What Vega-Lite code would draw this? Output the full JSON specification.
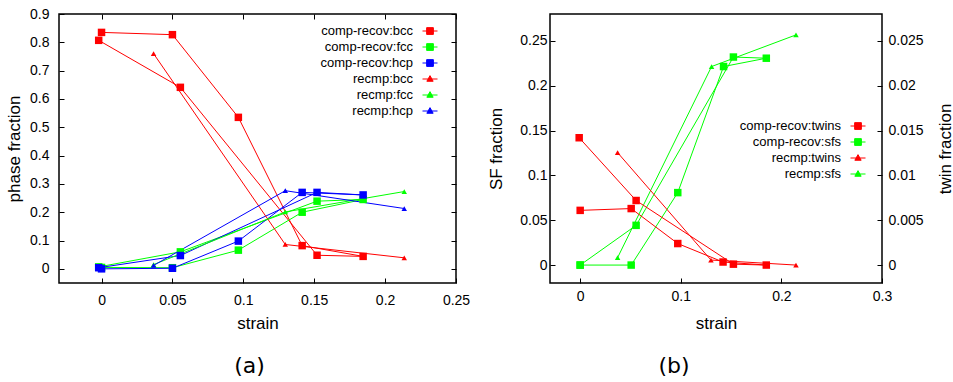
{
  "$schema": "https://vega.github.io/schema/vega-lite/v6.json",
  "padding": {"left": 4, "top": 6, "right": 0, "bottom": 0},
  "background": "white",
  "spacing": 16,
  "config": {
    "font": "Liberation Sans",
    "view": {"stroke": "black", "strokeWidth": 1.5},
    "axis": {"domain": false, "grid": false, "tickColor": "black", "tickSize": -5, "tickWidth": 1, "labelFont": "Liberation Sans", "labelFontSize": 14, "labelColor": "black", "titleFont": "Liberation Sans", "titleFontSize": 17, "titleFontWeight": "normal", "titleColor": "black", "labelFlush": false, "labelOverlap": false},
    "legend": {"labelFont": "Liberation Sans", "labelFontSize": 13, "labelColor": "black", "labelAlign": "right", "labelOffset": -25, "symbolSize": 225, "rowPadding": 1, "padding": 0, "symbolOffset": 0, "orient": "none", "direction": "vertical"}
  },
  "resolve": {"scale": {"fill": "independent", "stroke": "independent", "shape": "independent", "size": "independent"}},
  "hconcat": [
    {
      "name": "pa",
      "width": 397,
      "height": 269,
      "title": {"text": "(a)", "orient": "bottom", "font": "DejaVu Sans", "fontSize": 22, "fontWeight": "normal", "color": "black", "offset": 25, "dx": -8, "anchor": "middle", "frame": "group"},
      "data": {"values": [
        {"series": "comp-recov:bcc", "run": "comp-recov", "step": 1, "strain": 0.0, "frac": 0.835},
        {"series": "comp-recov:bcc", "run": "comp-recov", "step": 2, "strain": 0.05, "frac": 0.827},
        {"series": "comp-recov:bcc", "run": "comp-recov", "step": 3, "strain": 0.0965, "frac": 0.535},
        {"series": "comp-recov:bcc", "run": "comp-recov", "step": 4, "strain": 0.1415, "frac": 0.082},
        {"series": "comp-recov:bcc", "run": "comp-recov", "step": 5, "strain": 0.1845, "frac": 0.044},
        {"series": "comp-recov:bcc", "run": "comp-recov", "step": 6, "strain": 0.152, "frac": 0.048},
        {"series": "comp-recov:bcc", "run": "comp-recov", "step": 7, "strain": 0.0556, "frac": 0.641},
        {"series": "comp-recov:bcc", "run": "comp-recov", "step": 8, "strain": -0.002, "frac": 0.807},
        {"series": "comp-recov:fcc", "run": "comp-recov", "step": 1, "strain": 0.0, "frac": 0.005},
        {"series": "comp-recov:fcc", "run": "comp-recov", "step": 2, "strain": 0.05, "frac": 0.004},
        {"series": "comp-recov:fcc", "run": "comp-recov", "step": 3, "strain": 0.0965, "frac": 0.066},
        {"series": "comp-recov:fcc", "run": "comp-recov", "step": 4, "strain": 0.1415, "frac": 0.2},
        {"series": "comp-recov:fcc", "run": "comp-recov", "step": 5, "strain": 0.1845, "frac": 0.245},
        {"series": "comp-recov:fcc", "run": "comp-recov", "step": 6, "strain": 0.152, "frac": 0.239},
        {"series": "comp-recov:fcc", "run": "comp-recov", "step": 7, "strain": 0.0556, "frac": 0.06},
        {"series": "comp-recov:fcc", "run": "comp-recov", "step": 8, "strain": -0.002, "frac": 0.007},
        {"series": "comp-recov:hcp", "run": "comp-recov", "step": 1, "strain": 0.0, "frac": 0.0},
        {"series": "comp-recov:hcp", "run": "comp-recov", "step": 2, "strain": 0.05, "frac": 0.002},
        {"series": "comp-recov:hcp", "run": "comp-recov", "step": 3, "strain": 0.0965, "frac": 0.098},
        {"series": "comp-recov:hcp", "run": "comp-recov", "step": 4, "strain": 0.1415, "frac": 0.27},
        {"series": "comp-recov:hcp", "run": "comp-recov", "step": 5, "strain": 0.1845, "frac": 0.261},
        {"series": "comp-recov:hcp", "run": "comp-recov", "step": 6, "strain": 0.152, "frac": 0.27},
        {"series": "comp-recov:hcp", "run": "comp-recov", "step": 7, "strain": 0.0556, "frac": 0.047},
        {"series": "comp-recov:hcp", "run": "comp-recov", "step": 8, "strain": -0.002, "frac": 0.004},
        {"series": "recmp:bcc", "run": "recmp", "step": 1, "strain": 0.0367, "frac": 0.76},
        {"series": "recmp:bcc", "run": "recmp", "step": 2, "strain": 0.1296, "frac": 0.086},
        {"series": "recmp:bcc", "run": "recmp", "step": 3, "strain": 0.2135, "frac": 0.039},
        {"series": "recmp:fcc", "run": "recmp", "step": 1, "strain": 0.0367, "frac": 0.015},
        {"series": "recmp:fcc", "run": "recmp", "step": 2, "strain": 0.1296, "frac": 0.201},
        {"series": "recmp:fcc", "run": "recmp", "step": 3, "strain": 0.2135, "frac": 0.273},
        {"series": "recmp:hcp", "run": "recmp", "step": 1, "strain": 0.0367, "frac": 0.012},
        {"series": "recmp:hcp", "run": "recmp", "step": 2, "strain": 0.1296, "frac": 0.276},
        {"series": "recmp:hcp", "run": "recmp", "step": 3, "strain": 0.2135, "frac": 0.213}
      ]},
      "resolve": {"axis": {"x": "independent", "y": "independent"}},
      "layer": [
        {
          "mark": {"type": "line", "strokeWidth": 1},
          "encoding": {
            "x": {"field": "strain", "type": "quantitative", "scale": {"domain": [-0.03, 0.25], "nice": false, "zero": false}, "axis": {"orient": "bottom", "values": [0, 0.05, 0.1, 0.15, 0.2, 0.25], "format": "~g", "labelPadding": 15, "title": "strain", "titlePadding": 8}},
            "y": {"field": "frac", "type": "quantitative", "scale": {"domain": [-0.05, 0.9], "nice": false, "zero": false}, "axis": {"orient": "left", "values": [0, 0.1, 0.2, 0.3, 0.4, 0.5, 0.6, 0.7, 0.8, 0.9], "format": "~g", "labelPadding": 15, "title": "phase fraction", "titlePadding": 6}},
            "detail": {"field": "series"},
            "order": {"field": "step", "type": "quantitative"},
            "stroke": {"field": "series", "type": "nominal", "scale": {"domain": ["comp-recov:bcc", "comp-recov:fcc", "comp-recov:hcp", "recmp:bcc", "recmp:fcc", "recmp:hcp"], "range": ["#ff0000", "#00ff00", "#0000ff", "#ff0000", "#00ff00", "#0000ff"]},
              "legend": {"title": null, "legendX": 363, "legendY": 9, "encode": {"symbols": {"update": {"shape": {"signal": "indexof(datum.value,'recmp')==0 ? 'M-1,0H1M0,-0.45L0.42,0.3H-0.42Z' : 'M-1,0H1M-0.45,-0.45H0.45V0.45H-0.45Z'"}, "fill": {"signal": "indexof(datum.value,'bcc')>=0 || indexof(datum.value,'twins')>=0 ? '#ff0000' : (indexof(datum.value,'fcc')>=0 || indexof(datum.value,'sfs')>=0 ? '#00ff00' : '#0000ff')"}, "stroke": {"signal": "indexof(datum.value,'bcc')>=0 || indexof(datum.value,'twins')>=0 ? '#ff0000' : (indexof(datum.value,'fcc')>=0 || indexof(datum.value,'sfs')>=0 ? '#00ff00' : '#0000ff')"}, "strokeWidth": {"value": 1}, "opacity": {"value": 1}}}}}}
          }
        },
        {
          "mark": {"type": "point", "filled": true, "opacity": 1, "strokeWidth": 0},
          "encoding": {
            "x": {"field": "strain", "type": "quantitative", "axis": {"orient": "top", "values": [0, 0.05, 0.1, 0.15, 0.2, 0.25], "labels": false, "title": null}},
            "y": {"field": "frac", "type": "quantitative", "axis": {"orient": "right", "values": [0, 0.1, 0.2, 0.3, 0.4, 0.5, 0.6, 0.7, 0.8, 0.9], "labels": false, "title": null}},
            "fill": {"field": "series", "type": "nominal", "scale": {"domain": ["comp-recov:bcc", "comp-recov:fcc", "comp-recov:hcp", "recmp:bcc", "recmp:fcc", "recmp:hcp"], "range": ["#ff0000", "#00ff00", "#0000ff", "#ff0000", "#00ff00", "#0000ff"]},
              "legend": {"title": null, "legendX": 363, "legendY": 9, "encode": {"symbols": {"update": {"shape": {"signal": "indexof(datum.value,'recmp')==0 ? 'M-1,0H1M0,-0.45L0.42,0.3H-0.42Z' : 'M-1,0H1M-0.45,-0.45H0.45V0.45H-0.45Z'"}, "fill": {"signal": "indexof(datum.value,'bcc')>=0 || indexof(datum.value,'twins')>=0 ? '#ff0000' : (indexof(datum.value,'fcc')>=0 || indexof(datum.value,'sfs')>=0 ? '#00ff00' : '#0000ff')"}, "stroke": {"signal": "indexof(datum.value,'bcc')>=0 || indexof(datum.value,'twins')>=0 ? '#ff0000' : (indexof(datum.value,'fcc')>=0 || indexof(datum.value,'sfs')>=0 ? '#00ff00' : '#0000ff')"}, "strokeWidth": {"value": 1}, "opacity": {"value": 1}}}}}},
            "stroke": {"field": "series", "type": "nominal",
              "legend": {"title": null, "legendX": 363, "legendY": 9, "encode": {"symbols": {"update": {"shape": {"signal": "indexof(datum.value,'recmp')==0 ? 'M-1,0H1M0,-0.45L0.42,0.3H-0.42Z' : 'M-1,0H1M-0.45,-0.45H0.45V0.45H-0.45Z'"}, "fill": {"signal": "indexof(datum.value,'bcc')>=0 || indexof(datum.value,'twins')>=0 ? '#ff0000' : (indexof(datum.value,'fcc')>=0 || indexof(datum.value,'sfs')>=0 ? '#00ff00' : '#0000ff')"}, "stroke": {"signal": "indexof(datum.value,'bcc')>=0 || indexof(datum.value,'twins')>=0 ? '#ff0000' : (indexof(datum.value,'fcc')>=0 || indexof(datum.value,'sfs')>=0 ? '#00ff00' : '#0000ff')"}, "strokeWidth": {"value": 1}, "opacity": {"value": 1}}}}}},
            "shape": {"field": "run", "type": "nominal", "scale": {"domain": ["comp-recov", "recmp"], "range": ["square", "triangle-up"]}, "legend": null},
            "size": {"field": "run", "type": "nominal", "scale": {"domain": ["comp-recov", "recmp"], "range": [56, 30]}, "legend": null}
          }
        }
      ]
    },
    {
      "name": "pb",
      "width": 332,
      "height": 269,
      "title": {"text": "(b)", "orient": "bottom", "font": "DejaVu Sans", "fontSize": 22, "fontWeight": "normal", "color": "black", "offset": 25, "dx": -42, "anchor": "middle", "frame": "group"},
      "data": {"values": [
        {"series": "comp-recov:twins", "kind": "twins", "run": "comp-recov", "step": 1, "strain": 0.0, "frac": 0.0061},
        {"series": "comp-recov:twins", "kind": "twins", "run": "comp-recov", "step": 2, "strain": 0.0507, "frac": 0.0063},
        {"series": "comp-recov:twins", "kind": "twins", "run": "comp-recov", "step": 3, "strain": 0.097, "frac": 0.0024},
        {"series": "comp-recov:twins", "kind": "twins", "run": "comp-recov", "step": 4, "strain": 0.142, "frac": 0.00034},
        {"series": "comp-recov:twins", "kind": "twins", "run": "comp-recov", "step": 5, "strain": 0.185, "frac": 0.0},
        {"series": "comp-recov:twins", "kind": "twins", "run": "comp-recov", "step": 6, "strain": 0.1523, "frac": 0.0001},
        {"series": "comp-recov:twins", "kind": "twins", "run": "comp-recov", "step": 7, "strain": 0.0556, "frac": 0.0072},
        {"series": "comp-recov:twins", "kind": "twins", "run": "comp-recov", "step": 8, "strain": -0.001, "frac": 0.0142},
        {"series": "comp-recov:sfs", "kind": "sfs", "run": "comp-recov", "step": 1, "strain": 0.0, "frac": 0.0},
        {"series": "comp-recov:sfs", "kind": "sfs", "run": "comp-recov", "step": 2, "strain": 0.0507, "frac": 0.0},
        {"series": "comp-recov:sfs", "kind": "sfs", "run": "comp-recov", "step": 3, "strain": 0.097, "frac": 0.0808},
        {"series": "comp-recov:sfs", "kind": "sfs", "run": "comp-recov", "step": 4, "strain": 0.1425, "frac": 0.2214},
        {"series": "comp-recov:sfs", "kind": "sfs", "run": "comp-recov", "step": 5, "strain": 0.185, "frac": 0.2307},
        {"series": "comp-recov:sfs", "kind": "sfs", "run": "comp-recov", "step": 6, "strain": 0.1523, "frac": 0.232},
        {"series": "comp-recov:sfs", "kind": "sfs", "run": "comp-recov", "step": 7, "strain": 0.0556, "frac": 0.0443},
        {"series": "comp-recov:sfs", "kind": "sfs", "run": "comp-recov", "step": 8, "strain": 0.0, "frac": 0.0},
        {"series": "recmp:twins", "kind": "twins", "run": "recmp", "step": 1, "strain": 0.0372, "frac": 0.01254},
        {"series": "recmp:twins", "kind": "twins", "run": "recmp", "step": 2, "strain": 0.13, "frac": 0.00056},
        {"series": "recmp:twins", "kind": "twins", "run": "recmp", "step": 3, "strain": 0.2145, "frac": 0.0},
        {"series": "recmp:sfs", "kind": "sfs", "run": "recmp", "step": 1, "strain": 0.0372, "frac": 0.0083},
        {"series": "recmp:sfs", "kind": "sfs", "run": "recmp", "step": 2, "strain": 0.1306, "frac": 0.2214},
        {"series": "recmp:sfs", "kind": "sfs", "run": "recmp", "step": 3, "strain": 0.2145, "frac": 0.2567}
      ]},
      "encoding": {
        "x": {"field": "strain", "type": "quantitative", "scale": {"domain": [-0.03, 0.3], "nice": false, "zero": false}, "axis": {"orient": "bottom", "values": [0, 0.1, 0.2, 0.3], "format": "~g", "labelPadding": 11, "title": "strain", "titlePadding": 12}}
      },
      "resolve": {"scale": {"y": "independent"}},
      "layer": [
        {
          "transform": [{"filter": {"field": "kind", "equal": "sfs"}}],
          "mark": {"type": "line", "strokeWidth": 1},
          "encoding": {
            "y": {"field": "frac", "type": "quantitative", "scale": {"domain": [-0.02, 0.28], "nice": false, "zero": false}, "axis": null},
            "detail": {"field": "series"},
            "order": {"field": "step", "type": "quantitative"},
            "stroke": {"field": "series", "type": "nominal", "scale": {"domain": ["comp-recov:twins", "comp-recov:sfs", "recmp:twins", "recmp:sfs"], "range": ["#ff0000", "#00ff00", "#ff0000", "#00ff00"]},
              "legend": {"title": null, "legendX": 300, "legendY": 104, "encode": {"symbols": {"update": {"shape": {"signal": "indexof(datum.value,'recmp')==0 ? 'M-1,0H1M0,-0.45L0.42,0.3H-0.42Z' : 'M-1,0H1M-0.45,-0.45H0.45V0.45H-0.45Z'"}, "fill": {"signal": "indexof(datum.value,'bcc')>=0 || indexof(datum.value,'twins')>=0 ? '#ff0000' : (indexof(datum.value,'fcc')>=0 || indexof(datum.value,'sfs')>=0 ? '#00ff00' : '#0000ff')"}, "stroke": {"signal": "indexof(datum.value,'bcc')>=0 || indexof(datum.value,'twins')>=0 ? '#ff0000' : (indexof(datum.value,'fcc')>=0 || indexof(datum.value,'sfs')>=0 ? '#00ff00' : '#0000ff')"}, "strokeWidth": {"value": 1}, "opacity": {"value": 1}}}}}}
          }
        },
        {
          "transform": [{"filter": {"field": "kind", "equal": "twins"}}],
          "mark": {"type": "line", "strokeWidth": 1},
          "encoding": {
            "y": {"field": "frac", "type": "quantitative", "scale": {"domain": [-0.002, 0.028], "nice": false, "zero": false}, "axis": null},
            "detail": {"field": "series"},
            "order": {"field": "step", "type": "quantitative"},
            "stroke": {"field": "series", "type": "nominal",
              "legend": {"title": null, "legendX": 300, "legendY": 104, "encode": {"symbols": {"update": {"shape": {"signal": "indexof(datum.value,'recmp')==0 ? 'M-1,0H1M0,-0.45L0.42,0.3H-0.42Z' : 'M-1,0H1M-0.45,-0.45H0.45V0.45H-0.45Z'"}, "fill": {"signal": "indexof(datum.value,'bcc')>=0 || indexof(datum.value,'twins')>=0 ? '#ff0000' : (indexof(datum.value,'fcc')>=0 || indexof(datum.value,'sfs')>=0 ? '#00ff00' : '#0000ff')"}, "stroke": {"signal": "indexof(datum.value,'bcc')>=0 || indexof(datum.value,'twins')>=0 ? '#ff0000' : (indexof(datum.value,'fcc')>=0 || indexof(datum.value,'sfs')>=0 ? '#00ff00' : '#0000ff')"}, "strokeWidth": {"value": 1}, "opacity": {"value": 1}}}}}}
          }
        },
        {
          "transform": [{"filter": {"field": "kind", "equal": "sfs"}}],
          "mark": {"type": "point", "filled": true, "opacity": 1, "strokeWidth": 0},
          "encoding": {
            "y": {"field": "frac", "type": "quantitative", "scale": {"domain": [-0.02, 0.28], "nice": false, "zero": false}, "axis": {"orient": "left", "values": [0, 0.05, 0.1, 0.15, 0.2, 0.25], "format": "~g", "labelPadding": 8, "title": "SF fraction", "titlePadding": 14}},
            "fill": {"field": "series", "type": "nominal", "scale": {"domain": ["comp-recov:twins", "comp-recov:sfs", "recmp:twins", "recmp:sfs"], "range": ["#ff0000", "#00ff00", "#ff0000", "#00ff00"]},
              "legend": {"title": null, "legendX": 300, "legendY": 104, "encode": {"symbols": {"update": {"shape": {"signal": "indexof(datum.value,'recmp')==0 ? 'M-1,0H1M0,-0.45L0.42,0.3H-0.42Z' : 'M-1,0H1M-0.45,-0.45H0.45V0.45H-0.45Z'"}, "fill": {"signal": "indexof(datum.value,'bcc')>=0 || indexof(datum.value,'twins')>=0 ? '#ff0000' : (indexof(datum.value,'fcc')>=0 || indexof(datum.value,'sfs')>=0 ? '#00ff00' : '#0000ff')"}, "stroke": {"signal": "indexof(datum.value,'bcc')>=0 || indexof(datum.value,'twins')>=0 ? '#ff0000' : (indexof(datum.value,'fcc')>=0 || indexof(datum.value,'sfs')>=0 ? '#00ff00' : '#0000ff')"}, "strokeWidth": {"value": 1}, "opacity": {"value": 1}}}}}},
            "stroke": {"field": "series", "type": "nominal",
              "legend": {"title": null, "legendX": 300, "legendY": 104, "encode": {"symbols": {"update": {"shape": {"signal": "indexof(datum.value,'recmp')==0 ? 'M-1,0H1M0,-0.45L0.42,0.3H-0.42Z' : 'M-1,0H1M-0.45,-0.45H0.45V0.45H-0.45Z'"}, "fill": {"signal": "indexof(datum.value,'bcc')>=0 || indexof(datum.value,'twins')>=0 ? '#ff0000' : (indexof(datum.value,'fcc')>=0 || indexof(datum.value,'sfs')>=0 ? '#00ff00' : '#0000ff')"}, "stroke": {"signal": "indexof(datum.value,'bcc')>=0 || indexof(datum.value,'twins')>=0 ? '#ff0000' : (indexof(datum.value,'fcc')>=0 || indexof(datum.value,'sfs')>=0 ? '#00ff00' : '#0000ff')"}, "strokeWidth": {"value": 1}, "opacity": {"value": 1}}}}}},
            "shape": {"field": "run", "type": "nominal", "scale": {"domain": ["comp-recov", "recmp"], "range": ["square", "triangle-up"]}, "legend": null},
            "size": {"field": "run", "type": "nominal", "scale": {"domain": ["comp-recov", "recmp"], "range": [56, 30]}, "legend": null}
          }
        },
        {
          "transform": [{"filter": {"field": "kind", "equal": "twins"}}],
          "mark": {"type": "point", "filled": true, "opacity": 1, "strokeWidth": 0},
          "encoding": {
            "y": {"field": "frac", "type": "quantitative", "scale": {"domain": [-0.002, 0.028], "nice": false, "zero": false}, "axis": {"orient": "right", "values": [0, 0.005, 0.01, 0.015, 0.02, 0.025], "format": "~g", "labelPadding": 11, "title": "twin fraction", "titlePadding": 31, "titleAngle": 270}},
            "fill": {"field": "series", "type": "nominal",
              "legend": {"title": null, "legendX": 300, "legendY": 104, "encode": {"symbols": {"update": {"shape": {"signal": "indexof(datum.value,'recmp')==0 ? 'M-1,0H1M0,-0.45L0.42,0.3H-0.42Z' : 'M-1,0H1M-0.45,-0.45H0.45V0.45H-0.45Z'"}, "fill": {"signal": "indexof(datum.value,'bcc')>=0 || indexof(datum.value,'twins')>=0 ? '#ff0000' : (indexof(datum.value,'fcc')>=0 || indexof(datum.value,'sfs')>=0 ? '#00ff00' : '#0000ff')"}, "stroke": {"signal": "indexof(datum.value,'bcc')>=0 || indexof(datum.value,'twins')>=0 ? '#ff0000' : (indexof(datum.value,'fcc')>=0 || indexof(datum.value,'sfs')>=0 ? '#00ff00' : '#0000ff')"}, "strokeWidth": {"value": 1}, "opacity": {"value": 1}}}}}},
            "stroke": {"field": "series", "type": "nominal",
              "legend": {"title": null, "legendX": 300, "legendY": 104, "encode": {"symbols": {"update": {"shape": {"signal": "indexof(datum.value,'recmp')==0 ? 'M-1,0H1M0,-0.45L0.42,0.3H-0.42Z' : 'M-1,0H1M-0.45,-0.45H0.45V0.45H-0.45Z'"}, "fill": {"signal": "indexof(datum.value,'bcc')>=0 || indexof(datum.value,'twins')>=0 ? '#ff0000' : (indexof(datum.value,'fcc')>=0 || indexof(datum.value,'sfs')>=0 ? '#00ff00' : '#0000ff')"}, "stroke": {"signal": "indexof(datum.value,'bcc')>=0 || indexof(datum.value,'twins')>=0 ? '#ff0000' : (indexof(datum.value,'fcc')>=0 || indexof(datum.value,'sfs')>=0 ? '#00ff00' : '#0000ff')"}, "strokeWidth": {"value": 1}, "opacity": {"value": 1}}}}}},
            "shape": {"field": "run", "type": "nominal", "legend": null},
            "size": {"field": "run", "type": "nominal", "legend": null}
          }
        }
      ]
    }
  ]
}
